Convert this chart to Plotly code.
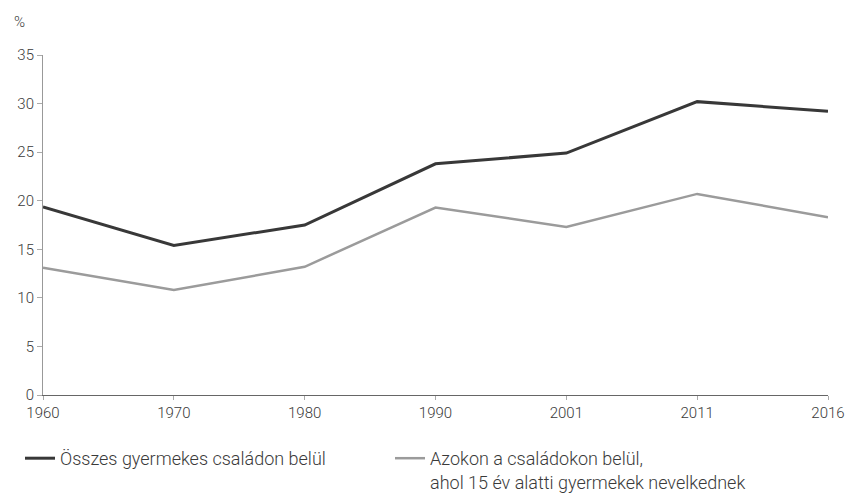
import plotly.graph_objects as go

years = ["1960", "1970", "1980", "1990", "2001", "2011", "2016"]
osszes = [19.35, 15.4, 17.5, 23.8, 24.9, 30.2, 29.2]
alatti15 = [13.1, 10.8, 13.2, 19.3, 17.3, 20.7, 18.3]
y_ticks = [0, 5, 10, 15, 20, 25, 30, 35]
name1 = "Összes gyermekes családon belül"
name2 = "Azokon a családokon belül,<br>ahol 15 év alatti gyermekek nevelkednek"

FONT = "Roboto, Liberation Sans Narrow, DejaVu Sans Condensed, sans-serif"
TXT = "#3a3a3a"

fig = go.Figure()
fig.add_trace(go.Scatter(x=years, y=osszes, mode="lines", name=name1,
                         legend="legend",
                         line=dict(color="#383838", width=3)))
fig.add_trace(go.Scatter(x=years, y=alatti15, mode="lines", name=name2,
                         legend="legend2",
                         line=dict(color="#9b9b9b", width=2.5)))

leg_common = dict(xref="container", yref="container", xanchor="left", yanchor="top",
                  valign="top", itemwidth=30, bgcolor="rgba(0,0,0,0)",
                  font=dict(family=FONT, size=18, color=TXT, weight=300))

fig.update_layout(
    width=847, height=504,
    margin=dict(l=43, r=19, t=55, b=109, autoexpand=False),
    paper_bgcolor="white", plot_bgcolor="white",
    font=dict(family=FONT, size=15, color=TXT, weight=300),
    showlegend=True,
    legend=dict(x=20 / 847, y=1 - 440 / 504, **leg_common),
    legend2=dict(x=390 / 847, y=1 - 440 / 504, **leg_common),
    xaxis=dict(type="category", range=[0, 6], showgrid=False, zeroline=False,
               showline=True, linecolor="#666666", linewidth=1.2,
               ticks="outside", ticklen=4, tickcolor="#aaaaaa", tickangle=0,
               ticklabeloverflow="allow",
               tickfont=dict(family=FONT, size=15, color=TXT, weight=300)),
    yaxis=dict(range=[0, 35], tickvals=y_ticks, showgrid=False, zeroline=False,
               showline=True, linecolor="#999999", linewidth=1,
               ticks="outside", ticklen=5, tickcolor="#aaaaaa",
               tickfont=dict(family=FONT, size=15, color=TXT, weight=300)),
    annotations=[dict(text="%", xref="paper", yref="paper",
                      x=(12 - 43) / 785, y=(395 - 22) / 340,
                      xanchor="left", yanchor="middle", showarrow=False,
                      font=dict(family=FONT, size=15, color=TXT, weight=300))],
)

fig.write_html("out.html", config={"displayModeBar": False},
               post_script="document.body.style.margin='0';document.body.style.overflow='hidden';")
